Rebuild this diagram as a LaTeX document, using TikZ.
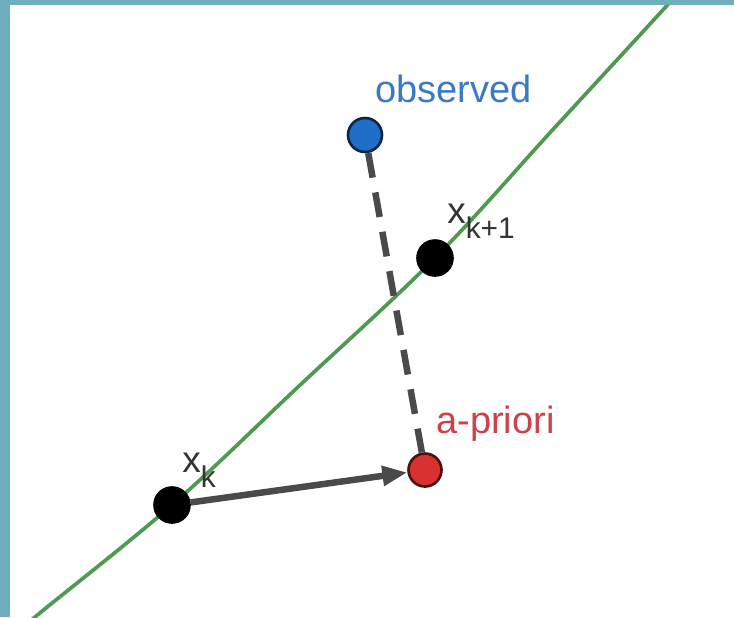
\documentclass[tikz,border=0pt]{standalone}
\usepackage{fontspec}
\setmainfont{Liberation Sans}
\definecolor{frame}{HTML}{6FAFBD}
\definecolor{curve}{HTML}{4E9A50}
\definecolor{obsblue}{HTML}{1F6FC8}
\definecolor{obstext}{HTML}{3A78C8}
\definecolor{prired}{HTML}{D93030}
\definecolor{pritext}{HTML}{D0404A}
\definecolor{darkline}{HTML}{4A4A4A}
\definecolor{labelgray}{HTML}{333333}
\usetikzlibrary{arrows.meta}
\tikzset{
  dot/.style={
    circle, draw=#1!35!black, fill=#1, line width=1.5pt,
    minimum size=0.68cm, inner sep=0pt
  },
  dot/.default=black,
  lbl/.style={anchor=base west, inner sep=0pt,
    font=\fontsize{21.6}{26}\selectfont, text=#1},
  lbl/.default=labelgray,
  xlbl/.style={anchor=base west, inner sep=0pt,
    font=\fontsize{21}{25}\selectfont, text=labelgray},
  arr/.style={-{Triangle[length=0.5cm,width=0.38cm]}, line width=0.13cm, color=darkline},
  darr/.style={dash pattern=on 0.5cm off 0.3cm, line width=0.13cm, color=darkline},
}
\newcommand{\subk}[1]{\raisebox{-0.42em}{\fontsize{17}{19}\selectfont #1}}

\begin{document}
\begin{tikzpicture}
  \useasboundingbox (0,0) rectangle (14.68,12.34);
  \fill[white] (0,0) rectangle (14.68,12.34);
  % frame strips
  \fill[frame] (0,0) rectangle (0.2,12.34);
  \fill[frame] (0,12.24) rectangle (14.68,12.34);

  % trajectory
  \begin{scope}
    \clip (0.2,0) rectangle (14.68,12.24);
    \draw[curve, line width=2.1pt] plot[smooth, tension=0.6] coordinates
      {(0.45,-0.25) (0.70,0) (3.44,2.24) (5.96,4.60) (8.70,7.18) (11.05,9.74) (13.44,12.34) (13.60,12.55)};
  \end{scope}

  \node[dot=black, minimum size=0.7cm] (xk) at (3.44,2.24) {};
  \node[dot=black, minimum size=0.7cm] (xk1) at (8.70,7.18) {};
  \node[dot=obsblue] (obs) at (7.30,9.64) {};
  \node[dot=prired, minimum size=0.66cm] (apr) at (8.50,2.94) {};

  \draw[darr] (obs) -- (apr);
  \draw[arr] (xk) -- (apr);

  \node[lbl=obstext] (obslbl) at (7.50,10.30) {observed};
  \node[lbl=pritext] (aprlbl) at (8.72,3.68) {a-priori};
  \node[xlbl] (xk1lbl) at (8.94,7.88) {x\subk{k+1}};
  \node[xlbl] (xklbl) at (3.64,2.90) {x\subk{k}};
\end{tikzpicture}
\end{document}
